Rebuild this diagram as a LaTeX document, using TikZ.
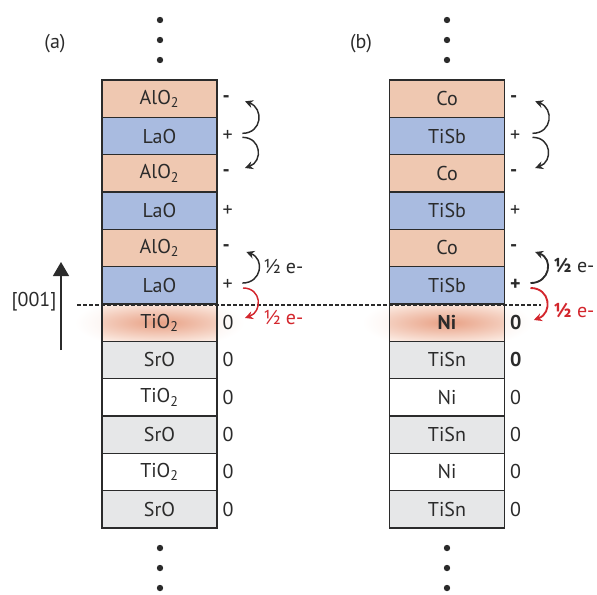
\documentclass[tikz,border=0pt]{standalone}
\usepackage{fontspec}
\setmainfont{PT Sans}
\usetikzlibrary{arrows.meta, positioning, calc}
\definecolor{layersalmon}{HTML}{EFC8B1}
\definecolor{layerblue}{HTML}{A9BBE0}
\definecolor{layergray}{HTML}{E6E7E8}
\definecolor{glowcore}{HTML}{E8A084}
\definecolor{glowbg}{HTML}{FDF1EA}
\definecolor{chargered}{HTML}{D3262D}
\definecolor{inkgray}{HTML}{2B2B2B}

\begin{document}
\begin{tikzpicture}[x=0.75pt, y=0.75pt,
    layer/.style={draw=inkgray, line width=0.9pt, minimum width=86.25pt, minimum height=28pt,
        inner sep=0pt, outer sep=0pt, font=\fontsize{15}{17}\selectfont, text=inkgray},
    glowlayer/.style={layer, fill=glowbg, path picture={
        \shade[inner color=glowcore, outer color=glowbg] (path picture bounding box.center)
            ellipse [x radius=78pt, y radius=17pt];}},
    charge/.style={inner sep=2pt, font=\fontsize{15}{17}\selectfont, text=inkgray},
    hop/.style={-{Stealth[length=6pt,width=6pt]}, line width=1.1pt, draw=inkgray},
    redhop/.style={hop, draw=chargered},
    tag/.style={font=\fontsize{15}{17}\selectfont, text=inkgray, inner sep=1pt}
]
    \useasboundingbox (0,0) rectangle (597,-594);

    % glow halo behind the interface layers
    \shade[inner color=glowcore!30, outer color=white] (159.5,-322.7) ellipse (85 and 26);
    \shade[inner color=glowcore!30, outer color=white] (447,-322.7) ellipse (85 and 26);

    % stack (a): LaAlO3 on SrTiO3
    \foreach \i/\txt/\sg/\col in {1/AlO\textsubscript{2}/\textbf{-}/layersalmon, 2/LaO/+/layerblue,
        3/AlO\textsubscript{2}/\textbf{-}/layersalmon, 4/LaO/+/layerblue, 5/AlO\textsubscript{2}/\textbf{-}/layersalmon,
        6/LaO/+/layerblue, 8/SrO/0/layergray, 9/TiO\textsubscript{2}/0/white,
        10/SrO/0/layergray, 11/TiO\textsubscript{2}/0/white, 12/SrO/0/layergray}
    {
        \node[layer, fill=\col] (a\i) at (159.5, {-80-37.33*(\i-0.5)}) {\txt};
        \node[charge, right=2pt of a\i] (qa\i) {\sg};
    }
    \node[glowlayer] (a7) at (159.5, {-80-37.33*6.5}) {TiO\textsubscript{2}};
    \node[charge, right=2pt of a7] (qa7) {0};

    % stack (b): half-Heusler
    \foreach \i/\txt/\sg/\col in {1/Co/\textbf{-}/layersalmon, 2/TiSb/+/layerblue,
        3/Co/\textbf{-}/layersalmon, 4/TiSb/+/layerblue, 5/Co/\textbf{-}/layersalmon,
        6/TiSb/\textbf{+}/layerblue, 8/TiSn/\textbf{0}/layergray, 9/Ni/0/white,
        10/TiSn/0/layergray, 11/Ni/0/white, 12/TiSn/0/layergray}
    {
        \node[layer, fill=\col] (b\i) at (447, {-80-37.33*(\i-0.5)}) {\txt};
        \node[charge, right=2pt of b\i] (qb\i) {\sg};
    }
    \node[glowlayer] (b7) at (447, {-80-37.33*6.5}) {\textbf{Ni}};
    \node[charge, right=2pt of b7] (qb7) {\textbf{0}};

    % continuation dots
    \foreach \y in {20,40,60,548,568,588} {
        \fill[inkgray] (160,-\y) circle (3.2);
        \fill[inkgray] (447,-\y) circle (3.2);
    }

    % panel tags
    \node[tag] (taga) at (55,-44) {(a)};
    \node[tag] (tagb) at (361,-44) {(b)};

    % growth direction
    \coordinate (axfoot) at (61,-350);
    \coordinate (axtip) at (61,-262);
    \draw[line width=1pt, draw=inkgray, -{Triangle[length=10.5pt,width=12pt]}] (axfoot) -- (axtip);
    \node[tag, anchor=east] (axlbl) at (58,-302) {[001]};

    % interface
    \coordinate (ifL) at (77,-304.7);
    \coordinate (ifR) at (541,-304.7);
    \draw[line width=1.4pt, draw=inkgray, dash pattern=on 3pt off 1.5pt] (ifL) -- (ifR);

    % charge transfer (a)
    \draw[hop] ([xshift=19pt,yshift=2pt]a2.east) to[out=0,in=-20,looseness=1.6] ([xshift=21pt,yshift=-2pt]a1.east);
    \draw[hop] ([xshift=19pt,yshift=-1pt]a2.east) to[out=0,in=20,looseness=1.6] ([xshift=21pt,yshift=4pt]a3.east);
    \draw[hop] ([xshift=19pt,yshift=1.7pt]a6.east) to[out=0,in=-20,looseness=1.6] ([xshift=22pt,yshift=-3pt]a5.east);
    \draw[redhop] ([xshift=19.5pt,yshift=-2pt]a6.east) to[out=0,in=20,looseness=1.6] ([xshift=21pt,yshift=3.5pt]a7.east);
    \node[tag, anchor=west] (ea) at (262,-266) {½ e-};
    \node[tag, anchor=west, text=chargered] (era) at (262,-317) {½ e-};

    % charge transfer (b)
    \draw[hop] ([xshift=21pt,yshift=2pt]b2.east) to[out=0,in=-20,looseness=1.6] ([xshift=23pt,yshift=-2pt]b1.east);
    \draw[hop] ([xshift=21pt,yshift=-1pt]b2.east) to[out=0,in=20,looseness=1.6] ([xshift=23pt,yshift=4pt]b3.east);
    \draw[hop, line width=1.4pt] ([xshift=19.5pt,yshift=1.7pt]b6.east) to[out=0,in=-20,looseness=1.6] ([xshift=23pt,yshift=-3pt]b5.east);
    \draw[redhop, line width=1.4pt] ([xshift=19.5pt,yshift=-2pt]b6.east) to[out=0,in=20,looseness=1.6] ([xshift=22pt,yshift=2pt]b7.east);
    \node[tag, anchor=west] (eb) at (552,-265) {\textbf{½} e-};
    \node[tag, anchor=west, text=chargered] (erb) at (552,-310) {\textbf{½} e-};
\end{tikzpicture}
\end{document}
